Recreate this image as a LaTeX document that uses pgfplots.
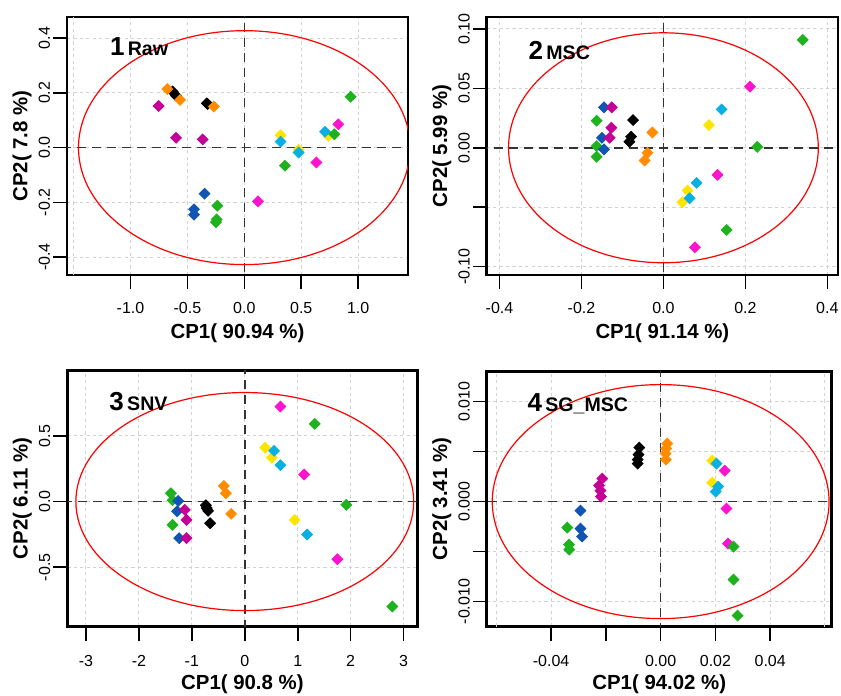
\documentclass[border=0pt]{standalone}
\usepackage{fontspec}
\setmainfont{Liberation Sans}
\usepackage{pgfplots}
\usepackage{pgfplotstable}
\pgfplotsset{compat=1.18}

\definecolor{cBk}{RGB}{0,0,0}
\definecolor{cOr}{RGB}{255,140,0}
\definecolor{cDm}{RGB}{196,0,150}
\definecolor{cPk}{RGB}{250,20,205}
\definecolor{cBl}{RGB}{16,84,180}
\definecolor{cGr}{RGB}{30,178,30}
\definecolor{cYe}{RGB}{255,228,0}
\definecolor{cCy}{RGB}{10,176,226}

% filled diamond, as wide as tall (like R pch 18)
\pgfdeclareplotmark{rdiam}{%
  \pgfpathmoveto{\pgfqpoint{0pt}{\pgfplotmarksize}}%
  \pgfpathlineto{\pgfqpoint{\pgfplotmarksize}{0pt}}%
  \pgfpathlineto{\pgfqpoint{0pt}{-\pgfplotmarksize}}%
  \pgfpathlineto{\pgfqpoint{-\pgfplotmarksize}{0pt}}%
  \pgfpathclose
  \pgfusepathqfillstroke}

\tikzset{
  zero/.style={black!80, line width=0.8pt, dash pattern=on 4.5pt off 3pt},
  ell/.style={red, line width=0.6pt},
}

\pgfplotsset{
  pca/.style={
    scale only axis,
    scaled ticks=false,
    axis line style={line width=1.4pt},
    tick align=outside,
    xtick pos=left, ytick pos=left,
    major tick length=7pt,
    every tick/.style={black, line width=0.8pt},
    grid=major,
    major grid style={gray!35, dash pattern=on 1.6pt off 1.6pt, line width=0.5pt},
    tick label style={font=\fontsize{8}{9}\selectfont},
    yticklabel style={rotate=90, anchor=south},
    xticklabel shift=3pt,
    yticklabel shift=-2pt,
    every axis x label/.style={at={([yshift=-29pt]axis description cs:0.5,0)},
      anchor=center, font=\bfseries\fontsize{10.2}{11}\selectfont},
    every axis y label/.style={at={([xshift=-22.5pt]axis description cs:0,0.5)},
      anchor=center, rotate=90, font=\bfseries\fontsize{10.2}{11}\selectfont},
    /pgf/number format/assume math mode=true,
    scatter/classes={
      bk={mark=rdiam, draw=cBk, fill=cBk},
      or={mark=rdiam, draw=cOr, fill=cOr},
      dm={mark=rdiam, draw=cDm, fill=cDm},
      pk={mark=rdiam, draw=cPk, fill=cPk},
      bl={mark=rdiam, draw=cBl, fill=cBl},
      gr={mark=rdiam, draw=cGr, fill=cGr},
      ye={mark=rdiam, draw=cYe, fill=cYe},
      cy={mark=rdiam, draw=cCy, fill=cCy}},
  },
  lowrow/.style={xticklabel shift=4pt},
  pts/.style={scatter, only marks, scatter src=explicit symbolic, mark size=2.7pt},
}

\pgfplotstableread{
x y c
-0.753 0.152 dm
-0.600 0.036 dm
-0.366 0.030 dm
-0.349 -0.168 bl
-0.442 -0.225 bl
-0.442 -0.245 bl
-0.630 0.205 bk
-0.600 0.190 bk
-0.330 0.162 bk
-0.322 0.159 bk
-0.677 0.214 or
-0.565 0.174 or
-0.267 0.150 or
0.633 -0.054 pk
0.826 0.085 pk
0.120 -0.196 pk
0.319 0.045 ye
0.477 -0.008 ye
0.738 0.043 ye
0.319 0.022 cy
0.477 -0.018 cy
0.709 0.058 cy
0.357 -0.066 gr
0.791 0.049 gr
0.934 0.186 gr
-0.237 -0.212 gr
-0.243 -0.262 gr
-0.249 -0.272 gr
}\rawdata

\pgfplotstableread{
x y c
0.340 0.0907 gr
-0.163 0.0228 gr
-0.163 0.0014 gr
-0.163 -0.0076 gr
0.229 0.0008 gr
0.154 -0.0691 gr
0.211 0.0514 pk
0.132 -0.0228 pk
0.077 -0.0837 pk
0.111 0.0191 ye
0.059 -0.0360 ye
0.046 -0.0458 ye
0.142 0.0323 cy
0.081 -0.0295 cy
0.064 -0.0424 cy
-0.145 0.0340 bl
-0.150 0.0084 bl
-0.145 -0.0014 bl
-0.126 0.0340 dm
-0.127 0.0169 dm
-0.131 0.0084 dm
-0.074 0.0233 bk
-0.079 0.0093 bk
-0.083 0.0051 bk
-0.027 0.0129 or
-0.039 -0.0042 or
-0.046 -0.0107 or
}\mscdata

\pgfplotstableread{
x y c
0.673 0.723 pk
1.119 0.206 pk
1.748 -0.439 pk
1.321 0.591 gr
1.918 -0.025 gr
2.786 -0.799 gr
-1.396 0.063 gr
-1.365 0.010 gr
-1.365 -0.178 gr
0.384 0.409 ye
0.509 0.335 ye
0.943 -0.140 ye
0.553 0.386 cy
0.673 0.277 cy
1.176 -0.251 cy
-0.396 0.119 or
-0.358 0.063 or
-0.258 -0.094 or
-0.736 -0.028 bk
-0.720 -0.050 bk
-0.692 -0.071 bk
-0.654 -0.165 bk
-1.258 0.005 bl
-1.277 -0.074 bl
-1.239 -0.279 bl
-1.132 -0.063 dm
-1.101 -0.140 dm
-1.101 -0.279 dm
}\snvdata

\pgfplotstableread{
x y c
-0.0078 0.0054 bk
-0.0081 0.0047 bk
-0.0084 0.0042 bk
-0.0084 0.0038 bk
0.0024 0.0058 or
0.0020 0.0053 or
0.0018 0.0048 or
0.0019 0.0042 or
-0.0213 0.0023 dm
-0.0225 0.0016 dm
-0.0220 0.0011 dm
-0.0218 0.0005 dm
-0.0293 -0.0009 bl
-0.0293 -0.0027 bl
-0.0287 -0.0035 bl
0.0188 0.0041 ye
0.0188 0.0019 ye
0.0204 0.0038 cy
0.0210 0.0015 cy
0.0201 0.0010 cy
0.0234 0.0031 pk
0.0240 -0.0007 pk
0.0246 -0.0042 pk
-0.0341 -0.0026 gr
-0.0335 -0.0043 gr
-0.0334 -0.0048 gr
0.0266 -0.0045 gr
0.0266 -0.0078 gr
0.0281 -0.0114 gr
}\sgdata

\begin{document}
\begin{tikzpicture}
\useasboundingbox (0,0) rectangle (420.5pt,348pt);

% 1 Raw
\begin{axis}[pca, at={(33.5pt,210.5pt)}, anchor=south west,
  width=170.5pt, height=129pt,
  xmin=-1.558, xmax=1.438, ymin=-0.465, ymax=0.477,
  xtick={-1,-0.5,0,0.5,1}, xticklabels={-1.0,-0.5,0.0,0.5,1.0},
  extra x ticks={-1.5}, extra x tick labels={},
  extra x tick style={major tick length=0pt},
  ytick={-0.4,-0.2,0,0.2,0.4}, yticklabels={-0.4,-0.2,0.0,0.2,0.4},
  xlabel={CP1( 90.94 \%)}, ylabel={CP2( 7.8 \%)}]
\draw[zero] (axis cs:0,-1) -- (axis cs:0,1);
\draw[zero] (axis cs:-2,0) -- (axis cs:2,0);
\draw[ell] (axis cs:0,0) ellipse [x radius=1.457, y radius=0.427];
\addplot[pts] table[x=x, y=y, meta=c] {\rawdata};
\node[anchor=base west, inner sep=0] at (rel axis cs:0.125,0.85)
  {\bfseries\fontsize{13}{13}\selectfont 1\fontsize{9.8}{10}\selectfont\,Raw};
\end{axis}

% 2 MSC
\begin{axis}[pca, at={(243.4pt,210.5pt)}, anchor=south west,
  width=175.6pt, height=129pt,
  xmin=-0.431, xmax=0.426, ymin=-0.107, ymax=0.110,
  xtick={-0.4,-0.2,0,0.2,0.4}, xticklabels={-0.4,-0.2,0.0,0.2,0.4},
  ytick={-0.1,-0.05,0,0.05,0.1}, yticklabels={-0.10,,0.00,0.05,0.10},
  xlabel={CP1( 91.14 \%)}, ylabel={CP2( 5.99 \%)}]
\draw[zero] (axis cs:0,-1) -- (axis cs:0,1);
\draw[zero] (axis cs:-1,0) -- (axis cs:1,0);
\draw[ell] (axis cs:0,0) ellipse [x radius=0.378, y radius=0.0967];
\addplot[pts] table[x=x, y=y, meta=c] {\mscdata};
\node[anchor=base west, inner sep=0] at (rel axis cs:0.118,0.835)
  {\bfseries\fontsize{13}{13}\selectfont 2\fontsize{9.8}{10}\selectfont\,MSC};
\end{axis}

% 3 SNV
\begin{axis}[pca, lowrow, at={(33.7pt,34.7pt)}, anchor=south west,
  width=175pt, height=128pt,
  xmin=-3.35, xmax=3.26, ymin=-0.952, ymax=0.997,
  xtick={-3,-2,-1,0,1,2,3},
  ytick={-0.5,0,0.5}, yticklabels={-0.5,0.0,0.5},
  xlabel={CP1( 90.8 \%)}, ylabel={CP2( 6.11 \%)}]
\draw[zero] (axis cs:0,-2) -- (axis cs:0,2);
\draw[zero] (axis cs:-4,0) -- (axis cs:4,0);
\draw[ell] (axis cs:0,0) ellipse [x radius=3.19, y radius=0.83];
\addplot[pts] table[x=x, y=y, meta=c] {\snvdata};
\node[anchor=base west, inner sep=0] at (rel axis cs:0.119,0.845)
  {\bfseries\fontsize{13}{13}\selectfont 3\fontsize{9.8}{10}\selectfont\,SNV};
\end{axis}

% 4 SG_MSC
\begin{axis}[pca, lowrow, at={(243.4pt,34.7pt)}, anchor=south west,
  width=172.5pt, height=127.5pt,
  xmin=-0.0635, xmax=0.0625, ymin=-0.0125, ymax=0.0130,
  xtick={-0.04,-0.02,0,0.02,0.04}, xticklabels={-0.04,,0.00,0.02,0.04},
  extra x ticks={-0.06,0.06}, extra x tick labels={},
  extra x tick style={major tick length=0pt},
  ytick={-0.01,-0.005,0,0.005,0.01}, yticklabels={-0.010,,0.000,,0.010},
  xlabel={CP1( 94.02 \%)}, ylabel={CP2( 3.41 \%)}]
\draw[zero] (axis cs:0,-1) -- (axis cs:0,1);
\draw[zero] (axis cs:-1,0) -- (axis cs:1,0);
\draw[ell] (axis cs:0,0) ellipse [x radius=0.0615, y radius=0.0117];
\addplot[pts] table[x=x, y=y, meta=c] {\sgdata};
\node[anchor=base west, inner sep=0] at (rel axis cs:0.117,0.845)
  {\bfseries\fontsize{13}{13}\selectfont 4\fontsize{9.8}{10}\selectfont\,SG\_MSC};
\end{axis}
\end{tikzpicture}
\end{document}
